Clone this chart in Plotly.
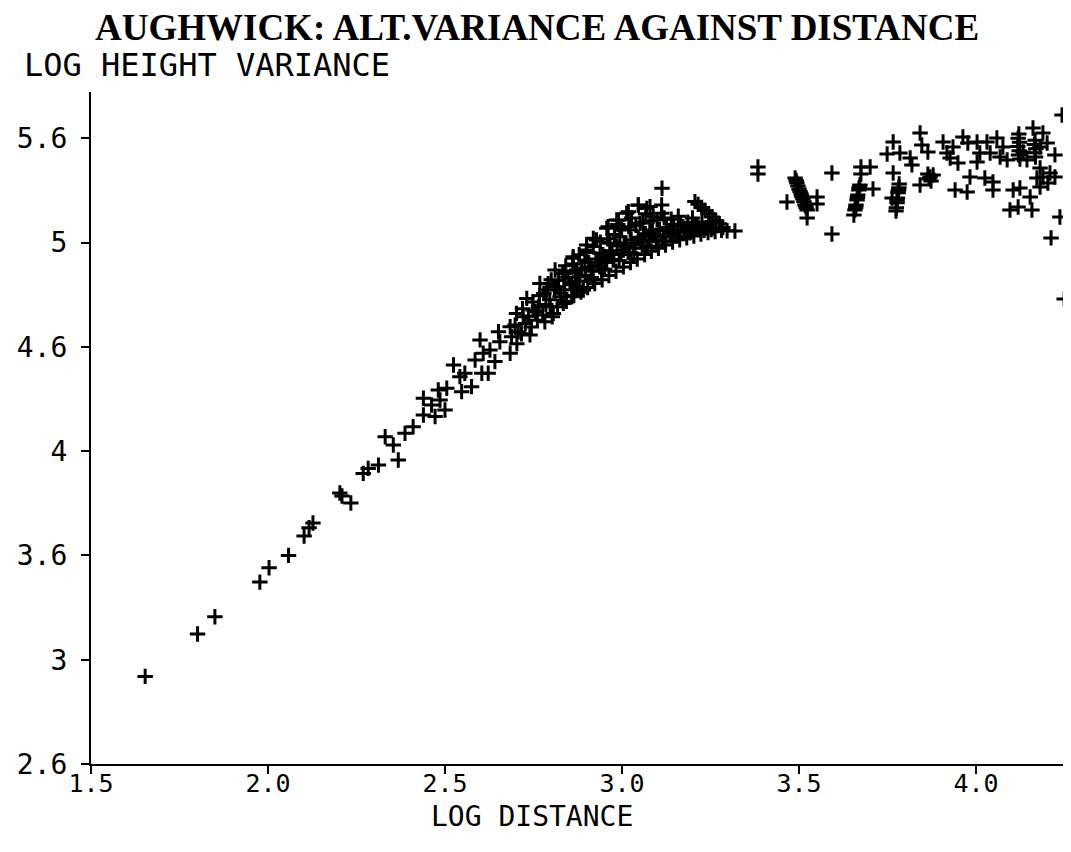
import plotly.graph_objects as go

# ---- data (log distance, log height variance) ----
tail_pts = [
    (1.653, 3.020), (1.801, 3.223), (1.850, 3.306), (1.977, 3.472), (2.003, 3.541),
    (2.058, 3.600), (2.102, 3.693), (2.116, 3.733), (2.127, 3.755), (2.203, 3.899),
    (2.209, 3.885), (2.234, 3.851), (2.269, 3.993), (2.283, 4.017), (2.312, 4.033),
    (2.368, 4.057), (2.331, 4.169), (2.354, 4.129), (2.387, 4.185), (2.410, 4.217),
    (2.439, 4.353), (2.439, 4.273), (2.462, 4.321), (2.472, 4.266), (2.481, 4.393),
    (2.486, 4.345), (2.500, 4.297), (2.505, 4.401), (2.524, 4.513), (2.542, 4.457),
    (2.556, 4.473), (2.547, 4.385), (2.575, 4.409), (2.585, 4.537), (2.599, 4.633),
    (2.608, 4.569), (2.604, 4.473), (2.622, 4.473), (2.627, 4.585), (2.641, 4.529),
    (2.651, 4.672), (2.655, 4.624), (2.684, 4.696), (2.688, 4.648), (2.684, 4.569),
    (2.707, 4.672), (2.731, 4.832), (2.702, 4.760), (2.721, 4.744), (2.740, 4.657),
    (2.749, 4.776), (2.764, 4.792), (2.768, 4.904), (2.782, 4.720), (2.787, 4.872),
    (2.797, 4.792), (2.806, 4.760), (2.811, 4.968), (2.815, 4.888), (2.825, 4.840),
    (2.834, 4.808), (2.839, 4.960), (2.862, 5.032), (2.853, 4.904), (2.858, 4.840),
    (2.872, 4.968), (2.881, 4.936), (2.891, 4.872), (2.895, 5.016), (2.900, 5.064),
    (2.914, 4.984), (2.919, 4.920), (2.928, 5.112), (2.938, 5.048), (2.942, 4.968),
    (2.952, 5.032), (2.961, 5.176), (2.966, 5.096), (2.975, 5.016), (2.985, 5.208),
    (2.994, 5.128), (3.004, 5.064), (3.013, 5.240), (3.023, 5.160), (3.032, 5.096),
    (3.046, 5.279), (3.051, 5.192), (3.060, 5.128), (3.070, 5.263), (3.079, 5.160),
    (3.088, 5.224), (3.113, 5.360),
]

core_pts = [
    (2.862, 5.024), (2.900, 5.088), (2.919, 5.120), (2.957, 5.168), (2.990, 5.207),
    (3.018, 5.248), (3.046, 5.280), (3.079, 5.272), (3.112, 5.280), (3.112, 5.240),
    (2.703, 4.615), (2.698, 4.705), (2.716, 4.662), (2.727, 4.712), (2.719, 4.783),
    (2.744, 4.695), (2.736, 4.748), (2.748, 4.815), (2.761, 4.727), (2.755, 4.768), (2.767, 4.845),
    (2.776, 4.752), (2.785, 4.803), (2.779, 4.856), (2.791, 4.902),
    (2.803, 4.744), (2.796, 4.826), (2.809, 4.874), (2.800, 4.921),
    (2.818, 4.792), (2.827, 4.857), (2.821, 4.918), (2.833, 4.951),
    (2.843, 4.818), (2.838, 4.874), (2.847, 4.934), (2.841, 4.988),
    (2.864, 4.846), (2.857, 4.897), (2.869, 4.953), (2.861, 4.997),
    (2.884, 4.862), (2.877, 4.915), (2.886, 4.978), (2.879, 5.041),
    (2.903, 4.884), (2.897, 4.943), (2.906, 5.004), (2.899, 5.052),
    (2.923, 4.903), (2.917, 4.962), (2.926, 5.021), (2.919, 5.081),
    (2.944, 4.921), (2.937, 4.983), (2.946, 5.042), (2.939, 5.102),
    (2.963, 4.942), (2.957, 5.004), (2.966, 5.061), (2.959, 5.118),
    (2.983, 4.962), (2.977, 5.018), (2.986, 5.084), (2.979, 5.138), (2.988, 5.186),
    (3.004, 4.983), (2.997, 5.043), (3.006, 5.098), (2.999, 5.163),
    (3.024, 5.004), (3.017, 5.052), (3.026, 5.113), (3.019, 5.176), (3.027, 5.218),
    (3.043, 5.021), (3.037, 5.073), (3.046, 5.124), (3.039, 5.183),
    (3.064, 5.042), (3.057, 5.088), (3.066, 5.142), (3.059, 5.197), (3.067, 5.238),
    (3.083, 5.058), (3.077, 5.104), (3.086, 5.153), (3.079, 5.204),
    (3.103, 5.072), (3.097, 5.113), (3.106, 5.162), (3.099, 5.208),
    (3.123, 5.088), (3.117, 5.128), (3.126, 5.172), (3.119, 5.218),
    (3.143, 5.102), (3.137, 5.142), (3.146, 5.183), (3.139, 5.212),
    (3.163, 5.113), (3.157, 5.152), (3.166, 5.188), (3.159, 5.226),
    (3.183, 5.122), (3.177, 5.158), (3.186, 5.197),
    (3.203, 5.131), (3.197, 5.163), (3.206, 5.187), (3.199, 5.218),
    (3.223, 5.141), (3.217, 5.168), (3.226, 5.198),
    (3.243, 5.148), (3.237, 5.171), (3.246, 5.188),
    (3.263, 5.152), (3.257, 5.171), (3.281, 5.158),
    (2.872, 4.884), (2.913, 4.932), (2.951, 4.972), (2.992, 5.012), (3.033, 5.046),
    (3.072, 5.082), (3.113, 5.108), (3.152, 5.131), (3.192, 5.146), (3.232, 5.158),
    (2.932, 5.002), (2.972, 5.048), (3.012, 5.082), (3.052, 5.108), (3.092, 5.134),
    (3.132, 5.156), (3.172, 5.176), (3.212, 5.176), (3.252, 5.162),
]

slash_pts = [
    (3.206, 5.296), (3.215, 5.283), (3.225, 5.268), (3.235, 5.254), (3.245, 5.238),
    (3.255, 5.222), (3.265, 5.206), (3.275, 5.190), (3.285, 5.172), (3.297, 5.156),
    (3.319, 5.155),
]

far_pts = [
    (3.384, 5.462), (3.384, 5.428),
    (3.489, 5.409), (3.494, 5.385), (3.500, 5.357), (3.506, 5.333), (3.511, 5.309),
    (3.517, 5.280), (3.523, 5.256), (3.492, 5.397), (3.497, 5.371), (3.503, 5.345),
    (3.508, 5.321), (3.514, 5.295), (3.520, 5.268),
    (3.466, 5.294), (3.551, 5.318), (3.551, 5.285), (3.523, 5.218), (3.593, 5.433),
    (3.593, 5.141),
    (3.672, 5.376), (3.669, 5.352), (3.666, 5.328), (3.664, 5.304), (3.661, 5.280),
    (3.658, 5.256), (3.655, 5.232), (3.670, 5.364), (3.665, 5.316), (3.660, 5.268),
    (3.675, 5.462), (3.675, 5.428), (3.701, 5.462), (3.709, 5.357),
    (3.783, 5.381), (3.782, 5.362), (3.780, 5.338), (3.778, 5.313), (3.777, 5.290),
    (3.775, 5.266), (3.774, 5.251), (3.781, 5.350), (3.777, 5.302),
    (3.763, 5.313), (3.766, 5.433), (3.766, 5.582), (3.749, 5.524), (3.785, 5.529),
    (3.814, 5.505), (3.819, 5.472), (3.842, 5.625), (3.847, 5.568), (3.864, 5.534),
    (3.842, 5.376), (3.870, 5.414), (3.864, 5.428), (3.879, 5.424), (3.873, 5.395),
    (3.867, 5.405),
    (3.907, 5.582), (3.918, 5.529), (3.927, 5.505), (3.935, 5.558), (3.963, 5.606),
    (3.977, 5.577), (3.949, 5.481), (3.983, 5.414), (3.941, 5.352), (3.975, 5.342),
    (4.003, 5.582), (4.011, 5.529), (4.003, 5.486), (4.031, 5.582), (4.040, 5.529),
    (4.025, 5.409), (4.048, 5.390), (4.048, 5.352), (4.059, 5.601), (4.068, 5.510),
    (4.076, 5.558), (4.088, 5.496), (4.105, 5.352), (4.124, 5.361), (4.096, 5.256),
    (4.119, 5.270), (4.158, 5.256), (4.153, 5.318),
    (4.121, 5.620), (4.119, 5.600), (4.123, 5.580), (4.118, 5.560), (4.122, 5.540),
    (4.120, 5.520), (4.124, 5.500),
    (4.133, 5.534), (4.144, 5.496), (4.161, 5.649), (4.189, 5.625),
    (4.167, 5.590), (4.165, 5.570), (4.169, 5.550), (4.166, 5.530), (4.168, 5.510),
    (4.181, 5.558), (4.201, 5.577), (4.223, 5.520), (4.181, 5.457), (4.189, 5.414),
    (4.209, 5.433), (4.203, 5.385), (4.223, 5.414), (4.172, 5.409), (4.181, 5.366),
    (4.243, 5.711), (4.237, 5.222), (4.212, 5.122), (4.249, 4.829),
]

all_pts = tail_pts + core_pts + slash_pts + far_pts
log_distance = [p[0] for p in all_pts]
log_height_variance = [p[1] for p in all_pts]

x_tick_vals = [1.5, 2.0, 2.5, 3.0, 3.5, 4.0]
x_tick_text = ["1.5", "2.0", "2.5", "3.0", "3.5", "4.0"]
y_tick_vals = [2.6, 3.1, 3.6, 4.1, 4.6, 5.1, 5.6]
y_tick_text = ["2.6", "3", "3.6", "4", "4.6", "5", "5.6"]

# the page body adds an 8px offset; the figure is sized so the plot lands where the reference's does
OFF = 8
PW, PH = 1071, 852                 # page size
PL, PR, PT, PB = 91, 1066, 92, 764  # plot-area edges in page pixels
W, H = PW - OFF, PH - OFF
L, T = PL - OFF, PT - OFF
R = W - (PR - OFF)
B = H - (PB - OFF)
plot_w, plot_h = PR - PL, PB - PT


def px_x(page_x):
    return (page_x - PL) / plot_w


def px_y(page_y):
    return (PB - page_y) / plot_h


fig = go.Figure()
fig.add_trace(go.Scatter(
    x=log_distance, y=log_height_variance, mode="markers",
    marker=dict(symbol="cross-thin", size=11, color="black",
                line=dict(color="black", width=3)),
    cliponaxis=False, showlegend=False, hoverinfo="x+y",
))

x_tick_font = dict(family="DejaVu Sans Mono", size=25, color="black")
y_tick_font = dict(family="DejaVu Sans Mono", size=28, color="black")
fig.update_xaxes(
    range=[1.5, 1.5 + plot_w / 354.0], tickvals=x_tick_vals, ticktext=x_tick_text,
    showline=True, linecolor="black", linewidth=2, ticks="outside", ticklen=8,
    tickwidth=2, tickcolor="black", showgrid=False, zeroline=False,
    tickfont=x_tick_font, ticklabelstandoff=-12,
)
fig.update_yaxes(
    range=[2.6, 2.6 + plot_h / 208.6], tickvals=y_tick_vals, ticktext=y_tick_text,
    showline=True, linecolor="black", linewidth=2, ticks="outside", ticklen=8,
    tickwidth=2, tickcolor="black", showgrid=False, zeroline=False,
    tickfont=y_tick_font, ticklabelstandoff=8,
)

fig.update_layout(
    width=W, height=H, margin=dict(l=L, r=R, t=T, b=B, autoexpand=False),
    paper_bgcolor="white", plot_bgcolor="white",
    annotations=[
        dict(text="<b>AUGHWICK: ALT.VARIANCE AGAINST DISTANCE</b>", xref="paper", yref="paper",
             x=px_x(537), y=px_y(28), xanchor="center", yanchor="middle", showarrow=False,
             font=dict(family="Liberation Serif", size=37, color="black")),
        dict(text="LOG HEIGHT VARIANCE", xref="paper", yref="paper",
             x=px_x(22), y=px_y(65), xanchor="left", yanchor="middle", showarrow=False,
             font=dict(family="DejaVu Sans Mono", size=32, color="black")),
        dict(text="LOG DISTANCE", xref="paper", yref="paper",
             x=px_x(532), y=px_y(816), xanchor="center", yanchor="middle", showarrow=False,
             font=dict(family="DejaVu Sans Mono", size=28, color="black")),
    ],
)

fig.write_html("out.html")
